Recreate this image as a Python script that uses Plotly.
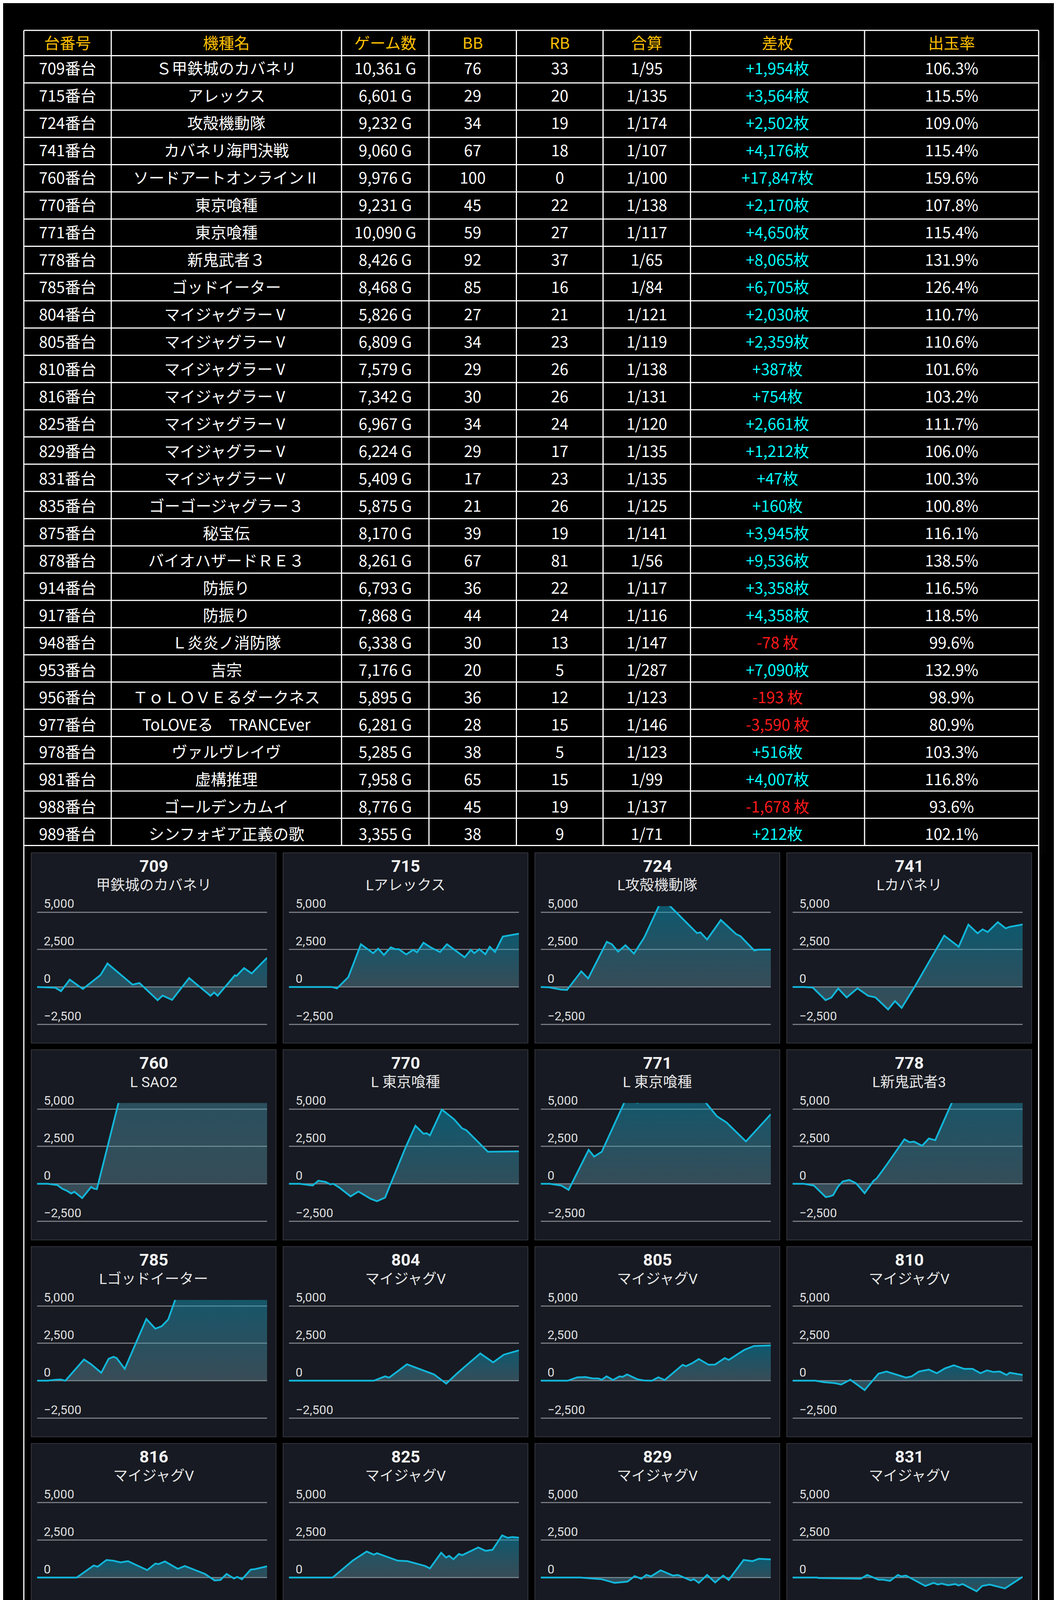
import plotly.graph_objects as go

W, H = 2707, 6204

# ---- table data ----
machine_no = [709, 715, 724, 741, 760, 770, 771, 778, 785, 804, 805, 810, 816, 825, 829,
              831, 835, 875, 878, 914, 917, 948, 953, 956, 977, 978, 981, 988, 989]
machine_name = ["Ｓ甲鉄城のカバネリ", "アレックス", "攻殻機動隊", "カバネリ海門決戦", "ソードアートオンラインⅡ",
                "東京喰種", "東京喰種", "新鬼武者３", "ゴッドイーター", "マイジャグラーⅤ", "マイジャグラーⅤ",
                "マイジャグラーⅤ", "マイジャグラーⅤ", "マイジャグラーⅤ", "マイジャグラーⅤ", "マイジャグラーⅤ",
                "ゴーゴージャグラー３", "秘宝伝", "バイオハザードＲＥ３", "防振り", "防振り", "Ｌ炎炎ノ消防隊",
                "吉宗", "ＴｏＬＯＶＥるダークネス", "ToLOVEる　TRANCEver", "ヴァルヴレイヴ",
                "虚構推理", "ゴールデンカムイ", "シンフォギア正義の歌"]
games = [10361, 6601, 9232, 9060, 9976, 9231, 10090, 8426, 8468, 5826, 6809, 7579, 7342, 6967, 6224,
         5409, 5875, 8170, 8261, 6793, 7868, 6338, 7176, 5895, 6281, 5285, 7958, 8776, 3355]
bb = [76, 29, 34, 67, 100, 45, 59, 92, 85, 27, 34, 29, 30, 34, 29, 17, 21, 39, 67, 36, 44, 30, 20, 36, 28, 38, 65, 45, 38]
rb = [33, 20, 19, 18, 0, 22, 27, 37, 16, 21, 23, 26, 26, 24, 17, 23, 26, 19, 81, 22, 24, 13, 5, 12, 15, 5, 15, 19, 9]
combined = [95, 135, 174, 107, 100, 138, 117, 65, 84, 121, 119, 138, 131, 120, 135, 135, 125, 141, 56, 117, 116,
            147, 287, 123, 146, 123, 99, 137, 71]
diff = [1954, 3564, 2502, 4176, 17847, 2170, 4650, 8065, 6705, 2030, 2359, 387, 754, 2661, 1212, 47, 160, 3945,
        9536, 3358, 4358, -78, 7090, -193, -3590, 516, 4007, -1678, 212]
payout = [106.3, 115.5, 109.0, 115.4, 159.6, 107.8, 115.4, 131.9, 126.4, 110.7, 110.6, 101.6, 103.2, 111.7, 106.0,
          100.3, 100.8, 116.1, 138.5, 116.5, 118.5, 99.6, 132.9, 98.9, 80.9, 103.3, 116.8, 93.6, 102.1]
headers = ["台番号", "機種名", "ゲーム数", "BB", "RB", "合算", "差枚", "出玉率"]
col_widths = [224, 590, 224, 224, 222, 224, 446, 446]

# ---- chart data (x = progress through the day in %, y = coin difference) ----
chart_names = ["甲鉄城のカバネリ", "Lアレックス", "L攻殻機動隊", "Lカバネリ", "L SAO2", "L 東京喰種", "L 東京喰種",
               "L新鬼武者3", "Lゴッドイーター", "マイジャグV", "マイジャグV", "マイジャグV", "マイジャグV",
               "マイジャグV", "マイジャグV", "マイジャグV", "ゴージャグ3", "L秘宝伝", "LバイオハザードRE:3",
               "L防振り", "L防振り", "L炎炎ノ消防隊", "L吉宗", "ToLOVEるダークネス",
               "L ToLOVEるD TRANCE ver.8.7", "ヴァルヴレイヴ", "L虚構推理", "Lゴールデンカムイ", "Lシンフォギア"]

x709 = [0, 5.7, 7.9, 10.4, 14.2, 19.9, 27.6, 30.6, 41.5, 44.5, 52.4, 54.6, 58.7, 66.1, 75.4, 77.0, 78.5, 86.0, 86.7, 90.0, 93.3, 100]
y709 = [0, -40, -50, -282, 490, -133, 805, 1569, 158, 266, -880, -573, -863, 598, -589, -365, -589, 780, 739, 1262, 905, 1954]
x715 = [0, 18.7, 20.9, 25.8, 31.3, 36.6, 38.8, 41.3, 44.3, 46.3, 47.8, 51.0, 54.0, 55.7, 58.5, 61.6, 65.7, 68.7, 76.4, 79.1, 80.6, 82.8, 85.4, 87.3, 89.6, 93.0, 100]
y715 = [0, 0, -91, 656, 2855, 2258, 2565, 2141, 2648, 2523, 2523, 2175, 2482, 2316, 2955, 2648, 2332, 2855, 1984, 2482, 2258, 2523, 2191, 2689, 2341, 3370, 3564]
x724 = [0, 3.6, 8.7, 11.4, 17.6, 20.6, 28.7, 30.9, 33.6, 36.8, 40.5, 45.0, 51.9, 54.9, 67.9, 69.4, 72.3, 78.3, 84.9, 86.8, 92.8, 94.5, 100]
y724 = [0, -20, -174, -199, 1046, 573, 3021, 2855, 2357, 2789, 2233, 3312, 5600, 5600, 3602, 3644, 3171, 4474, 3536, 3395, 2440, 2498, 2502]
x741 = [0, 5.0, 8.7, 14.3, 16.8, 19.8, 23.5, 28.2, 32.8, 36.0, 41.5, 44.5, 47.4, 53.0, 65.9, 72.2, 76.4, 80.4, 82.6, 84.8, 89.2, 92.6, 94.4, 100]
y741 = [0, 0, -33, -880, -714, -108, -697, -91, -589, -697, -1502, -946, -1394, 0, 3436, 2689, 4167, 3586, 3851, 3669, 4333, 3918, 4017, 4176]
x760 = [0, 4.6, 8.8, 10.9, 13.0, 14.8, 16.2, 17.9, 19.6, 23.5, 24.6, 26.0, 30.4, 38.8, 100]
y760 = [0, 0, -80, -322, -467, -644, -531, -757, -950, -209, -322, -354, 2383, 7500, 17847]
x770 = [0, 4.7, 10.3, 12.8, 15.9, 17.9, 19.3, 22.1, 26.8, 30.2, 35.5, 38.3, 41.8, 50.8, 55.0, 58.5, 59.9, 61.3, 66.5, 71.8, 75.3, 77.1, 86.5, 100]
y770 = [0, 0, -113, 209, 129, -32, 0, -274, -837, -515, -998, -1159, -918, 2463, 3880, 3349, 3381, 3236, 4959, 4315, 3703, 3590, 2141, 2170]
x771 = [0, 3.9, 8.9, 12.1, 20.8, 23.2, 26.5, 37.7, 42.0, 51.8, 68.7, 76.5, 80.7, 89.2, 100]
y771 = [0, 0, -113, -403, 2270, 1819, 2141, 5900, 5420, 6500, 6000, 4524, 4106, 2834, 4650]
x778 = [0, 4.9, 9.2, 12.0, 14.4, 16.2, 17.6, 19.7, 21.8, 24.6, 27.5, 31.3, 35.2, 36.6, 40.8, 48.6, 50.7, 52.8, 56.3, 59.2, 60.6, 62.0, 73.2, 100]
y778 = [0, 0, -113, -515, -886, -837, -757, -193, 161, 258, 48, -628, 209, 370, 1256, 2979, 2785, 2818, 2544, 3027, 2979, 2914, 6800, 8065]
x785 = [0, 4.6, 8.0, 10.2, 12.3, 20.4, 23.5, 27.9, 31.1, 33.2, 34.6, 38.1, 47.5, 51.4, 54.2, 57.0, 61.2, 100]
y785 = [0, 0, 64, 80, 0, 1417, 1095, 531, 1465, 1594, 1513, 789, 4122, 3478, 3639, 4089, 5900, 6705]
x804 = [0, 36.9, 41.8, 43.6, 51.3, 61.3, 63.1, 68.4, 73.2, 77.4, 83.2, 88.8, 93.4, 100]
y804 = [0, 0, 290, 209, 1095, 499, 419, -193, 499, 1063, 1819, 1224, 1739, 2030]
x805 = [0, 11.7, 15.9, 19.4, 22.3, 25.1, 26.5, 28.6, 31.4, 34.2, 35.6, 37.5, 42.0, 44.8, 48.3, 51.1, 53.9, 61.7, 63.1, 65.9, 68.7, 73.0, 75.8, 80.0, 81.7, 88.5, 92.7, 100]
y805 = [0, 0, 225, 242, 161, 145, 64, 290, 48, 290, 258, 419, 97, 16, 0, 225, 48, 1063, 966, 1175, 1449, 1063, 1079, 1514, 1385, 2061, 2318, 2359]
x810 = [0, 9.9, 13.4, 18.3, 21.1, 25.1, 31.3, 37.3, 40.8, 49.3, 51.8, 54.9, 59.2, 62.7, 66.2, 70.1, 74.6, 78.2, 81.7, 84.5, 87.3, 90.1, 93.0, 94.4, 100]
y810 = [0, 0, -97, -161, -258, 64, -628, 467, 612, 209, 290, 612, 741, 499, 821, 1030, 789, 789, 499, 692, 580, 612, 386, 531, 387]
x816 = [0, 17.2, 24.6, 26.3, 30.2, 33.2, 36.3, 39.5, 47.9, 51.4, 52.8, 55.6, 61.2, 64.2, 73.0, 77.2, 79.7, 82.4, 85.6, 87.0, 89.1, 92.9, 94.7, 100]
y816 = [0, 0, 805, 725, 1175, 1127, 1014, 1095, 499, 934, 902, 1079, 580, 773, 242, -193, -161, 242, -64, 48, -113, 531, 564, 754]
x825 = [0, 19.0, 27.8, 33.8, 36.9, 38.3, 47.3, 51.5, 59.2, 61.3, 66.2, 68.3, 69.7, 71.5, 73.9, 75.3, 82.3, 85.5, 88.5, 92.7, 95.1, 97.2, 100]
y825 = [0, 0, 1143, 1739, 1530, 1626, 1127, 1095, 773, 612, 1658, 1336, 1449, 1224, 1578, 1497, 2013, 1787, 1852, 2818, 2657, 2705, 2661]
x829 = [0, 17.3, 26.5, 32.1, 37.7, 40.8, 43.7, 45.9, 47.9, 52.1, 57.5, 59.6, 65.2, 66.6, 68.7, 72.3, 75.8, 79.3, 81.7, 88.2, 92.0, 94.8, 100]
y829 = [0, 0, -113, -354, -274, 97, -80, 177, 80, 483, 129, 177, -193, -113, -354, 177, -322, 129, -161, 1175, 1095, 1256, 1212]
x831 = [0, 10.6, 11.3, 29.6, 32.4, 37.3, 39.4, 42.3, 45.8, 47.2, 49.3, 57.7, 61.3, 63.1, 64.8, 67.6, 70.7, 72.1, 73.9, 80.0, 82.4, 85.6, 92.3, 100]
y831 = [0, 0, -32, -80, 177, -145, -145, -225, 177, 80, 129, -564, -354, -467, -403, -515, -435, -531, -435, -918, -564, -467, -725, 47]
x835 = [0, 13.7, 16.5, 20.0, 26.3, 31.1, 34.4, 38.8, 50.0, 55.6, 58.7, 61.2, 64.0, 66.8, 72.1, 76.3, 80.0, 82.8, 84.2, 87.3, 100]
y835 = [0, 0, 129, 64, -64, -306, -354, 290, -708, 16, -145, -32, -145, -225, 708, 386, 225, 531, 419, 692, 160]
x875 = [0, 7.5, 8.9, 11.3, 25.4, 26.4, 31.7, 34.8, 36.9, 40.1, 42.7, 45.3, 50.1, 51.8, 57.1, 62.0, 65.1, 66.2, 68.7, 79.9, 84.1, 85.5, 87.4, 100]
y875 = [0, -32, -64, -225, 3719, 3606, 4283, 3912, 4202, 3912, 4235, 3993, 3284, 3188, 2512, 3800, 3397, 3478, 3268, 4894, 4250, 4235, 4363, 3945]
x878 = [0, 4.6, 8.2, 11.0, 12.4, 16.6, 32.1, 100]
y878 = [0, 0, -64, -225, 16, 419, 6200, 9536]
x914 = [0, 7.7, 10.3, 12.7, 14.1, 17.9, 20.4, 21.8, 24.6, 26.8, 29.9, 38.0, 41.5, 46.8, 53.5, 57.3, 59.4, 62.7, 69.0, 73.9, 76.3, 80.3, 100]
y914 = [0, 0, -97, 306, 258, 869, 660, 612, 290, 741, 451, 2157, 2592, 3478, 2463, 1948, 2318, 1932, 1932, 2624, 2415, 3478, 3358]
x917 = [0, 3.9, 8.8, 10.9, 13.0, 17.6, 19.0, 20.7, 25.1, 27.4, 31.8, 33.0, 40.5, 41.6, 44.1, 45.8, 49.3, 51.8, 54.9, 57.3, 61.2, 62.8, 66.1, 68.9, 71.6, 78.9, 81.4, 83.8, 100]
y917 = [0, 0, -64, -145, -97, -596, -499, -338, 950, 918, 1304, 1369, 2753, 2640, 3156, 3043, 3349, 3236, 3590, 3478, 3043, 2995, 3478, 3156, 2785, 4524, 4395, 4750, 4358]
x948 = [0, 6.1, 9.6, 13.1, 17.3, 20.8, 24.3, 26.8, 30.6, 41.8, 51.5, 53.6, 59.9, 62.3, 64.8, 67.6, 72.5, 79.9, 89.7, 92.7, 100]
y948 = [0, -32, -64, 209, -354, 499, 97, 692, 338, -1159, -306, -419, -467, -547, 209, -32, -64, -708, 97, 48, -78]
x953 = [0, 8.5, 12.4, 15.2, 17.3, 20.3, 22.0, 26.5, 28.6, 33.5, 38.5, 40.8, 41.7, 49.7, 100]
y953 = [0, 0, -274, -338, -467, -950, -1143, -1996, -1481, -2450, 660, 1497, 1433, 6500, 7090]
x956 = [0, 4.2, 8.5, 10.1, 13.4, 15.8, 17.9, 20.8, 23.7, 31.3, 33.8, 36.9, 38.7, 62.0, 64.8, 66.9, 69.7, 73.2, 75.4, 80.0, 83.5, 87.6, 89.9, 100]
y956 = [0, 0, -64, -193, 660, 370, 628, -64, 773, -708, -145, -596, -467, -741, -998, -628, -386, -1111, -306, -515, -1030, -32, -113, -193]
x977 = [0, 3.2, 6.7, 10.2, 21.4, 25.1, 29.1, 32.5, 34.4, 41.6, 100]
y977 = [0, 0, -97, -306, -2077, -1465, -1433, -1513, -1594, -2900, -3590]
x978 = [0, 8.2, 11.0, 30.6, 36.9, 41.8, 47.5, 49.3, 54.1, 56.8, 58.2, 61.9, 63.8, 69.1, 73.3, 75.4, 81.4, 85.9, 89.0, 100]
y978 = [0, 0, -225, -161, -1224, 692, -32, 290, -354, 499, 419, 0, 64, 64, -386, -145, -193, 708, 547, 516]
x981 = [0, 3.2, 8.9, 12.1, 16.3, 20.1, 23.9, 26.2, 28.6, 31.4, 34.6, 37.0, 39.2, 42.3, 44.8, 46.9, 54.6, 59.6, 69.4, 72.3, 75.1, 77.5, 80.7, 83.5, 91.3, 94.8, 100]
y981 = [0, 0, -145, 64, -258, -741, -258, -467, -225, -547, -1191, -1272, -1481, -1159, -1385, -1385, 741, 2431, 5088, 4846, 4766, 4637, 4717, 4524, 4202, 3912, 4007]
x988 = [0, 3.5, 9.2, 14.1, 17.6, 27.5, 35.0, 40.1, 45.1, 52.1, 58.0, 63.1, 68.3, 74.0, 78.2, 81.0, 84.5, 90.1, 100]
y988 = [0, 0, -97, -547, -708, 499, -386, 419, -274, -998, -1916, -1481, -837, -1320, -950, -1191, -1224, -1626, -1678]
x989 = [0, 8.6, 13.3, 19.5, 27.3, 30.4, 32.7, 37.8, 41.3, 44.6, 48.9, 65.5, 70.1, 90.0, 91.6, 100]
y989 = [0, 0, -91, -631, 822, 739, 722, 722, 432, -42, 639, 598, 349, 349, 282, 212]

series = [(x709, y709), (x715, y715), (x724, y724), (x741, y741), (x760, y760), (x770, y770), (x771, y771),
          (x778, y778), (x785, y785), (x804, y804), (x805, y805), (x810, y810), (x816, y816), (x825, y825),
          (x829, y829), (x831, y831), (x835, y835), (x875, y875), (x878, y878), (x914, y914), (x917, y917),
          (x948, y948), (x953, y953), (x956, y956), (x977, y977), (x978, y978), (x981, y981), (x988, y988),
          (x989, y989)]


def fx(px):
    return px / W


def fy(py):
    return 1 - py / H


CJK = "Noto Sans CJK JP"
SANS = "Roboto, Noto Sans CJK JP"
PANEL_BG = "#171a22"
LINE = "#12b5d8"

fig = go.Figure()

# ---- summary table ----
TBL_L, TBL_R, TBL_T = 53, 2652, 45
HEAD_H, ROW_H = 65, 70
TEXT_DROP = 9  # plotly puts table text at the top of a cell; nudge it down to sit centred
diff_txt = [f"+{d:,}枚" if d >= 0 else f"{d:,} 枚" for d in diff]
diff_col = ["#00ffff" if d >= 0 else "#ff1a1a" for d in diff]
n = len(machine_no)
fig.add_trace(go.Table(
    domain=dict(x=[fx(TBL_L), fx(TBL_R)], y=[fy(2160), fy(TBL_T + TEXT_DROP)]),
    columnwidth=col_widths,
    header=dict(values=headers, height=HEAD_H, align="center", fill_color="rgba(0,0,0,0)",
                line=dict(width=0), font=dict(family=CJK, size=40, color="#ffc000")),
    cells=dict(values=[[f"{m}番台" for m in machine_no], machine_name, [f"{g:,} G" for g in games], bb, rb,
                       [f"1/{c}" for c in combined], diff_txt, [f"{p:.1f}%" for p in payout]],
               height=ROW_H, align="center", fill_color="rgba(0,0,0,0)", line=dict(width=0),
               font=dict(family=CJK, size=40,
                         color=[["white"] * n] * 6 + [diff_col, ["white"] * n])),
))

tbl_bottom = TBL_T + HEAD_H + n * ROW_H
shapes = []
# table grid
row_edges = [TBL_T, TBL_T + HEAD_H] + [TBL_T + HEAD_H + ROW_H * (r + 1) for r in range(n)]
for yy in row_edges:
    shapes.append(dict(type="line", xref="paper", yref="paper", x0=fx(TBL_L), x1=fx(TBL_R),
                       y0=fy(yy), y1=fy(yy), line=dict(color="white", width=3)))
scale = (TBL_R - TBL_L) / sum(col_widths)
xx = TBL_L
col_edges = [xx]
for w in col_widths:
    xx += w * scale
    col_edges.append(xx)
for xx in col_edges:
    shapes.append(dict(type="line", xref="paper", yref="paper", x0=fx(xx), x1=fx(xx),
                       y0=fy(TBL_T), y1=fy(tbl_bottom), line=dict(color="white", width=3)))
# frame around the chart grid
shapes.append(dict(type="rect", xref="paper", yref="paper", x0=fx(TBL_L), x1=fx(TBL_R), y0=fy(6201),
                   y1=fy(tbl_bottom), line=dict(color="white", width=3), layer="below"))

# ---- small multiples ----
annotations = []
layout_axes = {}
for i, ((xs, ys), no, name) in enumerate(zip(series, machine_no, chart_names)):
    col, row = i % 4, i // 4
    left = 72 + col * 645
    top = 2159 + row * 506
    shapes.append(dict(type="rect", xref="paper", yref="paper", x0=fx(left), x1=fx(left + 627),
                       y0=fy(top + 489), y1=fy(top), fillcolor=PANEL_BG,
                       line=dict(color="#33363d", width=2), layer="below"))
    cx = fx(left + 313.5)
    annotations.append(dict(text=f"<b>{no}</b>", x=cx, y=fy(top + 34), xref="paper", yref="paper",
                            showarrow=False, xanchor="center", yanchor="middle",
                            font=dict(family=SANS, size=43, color="#f2f2f2")))
    annotations.append(dict(text=name, x=cx, y=fy(top + 84), xref="paper", yref="paper",
                            showarrow=False, xanchor="center", yanchor="middle",
                            font=dict(family=SANS, size=37, color="#e6e6e6")))
    k = "" if i == 0 else str(i + 1)
    layout_axes["xaxis" + k] = dict(domain=[fx(left + 15), fx(left + 604)], anchor="y" + k,
                                    range=[0, 100], visible=False, fixedrange=True)
    layout_axes["yaxis" + k] = dict(domain=[fy(top + 444), fy(top + 137)], anchor="x" + k,
                                    range=[-2580, 5400], tickvals=[-2500, 0, 2500, 5000],
                                    tickformat=",", showgrid=True, gridcolor="#76797f", gridwidth=3,
                                    zeroline=False, showline=False, ticks="",
                                    ticklabelposition="inside", ticklabelshift=-22,
                                    ticklabelstandoff=14, ticklabeloverflow="allow",
                                    tickfont=dict(family=SANS, size=32, color="#dedede"),
                                    fixedrange=True)
    fig.add_trace(go.Scatter(
        x=xs, y=ys, xaxis="x" + k, yaxis="y" + k, mode="lines",
        line=dict(color=LINE, width=4.5),
        fill="tozeroy",
        fillgradient=dict(type="vertical",
                          colorscale=[[0, "rgba(105,150,165,0.40)"], [1, "rgba(0,165,205,0.45)"]]),
        hoverinfo="skip", showlegend=False,
    ))

fig.update_layout(
    width=W, height=H, margin=dict(l=0, r=0, t=0, b=0),
    paper_bgcolor="black", plot_bgcolor=PANEL_BG,
    shapes=shapes, annotations=annotations, showlegend=False,
    **layout_axes,
)

fig.write_html("out.html")
